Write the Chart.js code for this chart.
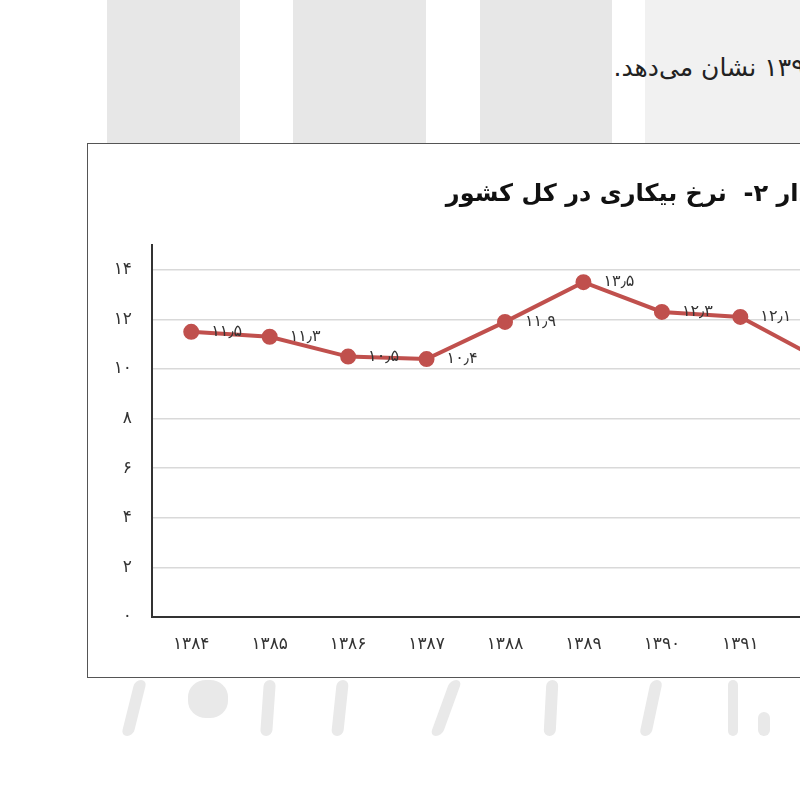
<!DOCTYPE html>
<html>
<head>
<meta charset="utf-8">
<script src="https://cdn.jsdelivr.net/npm/chart.js@4.4.1/dist/chart.umd.min.js"></script>
<style>
  html, body { margin: 0; padding: 0; background: #fff; overflow: hidden; width: 800px; height: 800px; }
  .wm { position: absolute; top: 0; height: 144px; background: #e7e7e7; }
  .stroke { position: absolute; background: #e9e9e9; border-radius: 6px; }
  .para { position: absolute; top: 53px; right: -18px; font: 25px "DejaVu Sans", sans-serif; direction: rtl; color: #222; white-space: nowrap; }
  .frame { position: absolute; left: 87px; top: 143px; width: 800px; height: 533px; border: 1.5px solid #555; background: #fff; }
  canvas { position: absolute; left: 0; top: 0; }
</style>
</head>
<body>
<div class="wm" style="left:107px;width:133px"></div>
<div class="wm" style="left:293px;width:133px"></div>
<div class="wm" style="left:480px;width:132px"></div>
<div class="wm" style="left:645px;width:155px;background:#f1f1f1"></div>
<div class="para">۱۳۹۲ نشان می‌دهد.</div>

<div class="stroke" style="left:128px;top:680px;width:12px;height:56px;transform:skewX(-14deg)"></div>
<div class="stroke" style="left:188px;top:680px;width:40px;height:38px;border-radius:45%"></div>
<div class="stroke" style="left:262px;top:680px;width:12px;height:56px;transform:skewX(-4deg)"></div>
<div class="stroke" style="left:334px;top:680px;width:12px;height:56px;transform:skewX(-6deg)"></div>
<div class="stroke" style="left:440px;top:680px;width:12px;height:56px;transform:skewX(-20deg)"></div>
<div class="stroke" style="left:545px;top:680px;width:12px;height:56px;transform:skewX(-3deg)"></div>
<div class="stroke" style="left:645px;top:680px;width:12px;height:56px;transform:skewX(-12deg)"></div>
<div class="stroke" style="left:728px;top:680px;width:10px;height:56px"></div>
<div class="stroke" style="left:758px;top:712px;width:12px;height:24px"></div>

<div class="frame">
  <canvas id="chart" width="790" height="533"></canvas>
</div>

<script>
const years = [1384, 1385, 1386, 1387, 1388, 1389, 1390, 1391, 1392];
const unemployment = [11.5, 11.3, 10.5, 10.4, 11.9, 13.5, 12.3, 12.1, 10.4];
const yTicks = [0, 2, 4, 6, 8, 10, 12, 14];
const chartTitle = "نمودار ۲-  نرخ بیکاری در کل کشور";

const faFont = '"DejaVu Sans", sans-serif';

// persian digits
const fa = (n) =>
  String(n).replace(".", "٫").replace(/\d/g, (d) => "۰۱۲۳۴۵۶۷۸۹"[d]);

// value labels to the right of each point
const pointLabels = {
  id: "pointLabels",
  afterDatasetsDraw(chart) {
    const ctx = chart.ctx;
    const meta = chart.getDatasetMeta(0);
    ctx.save();
    ctx.font = "16px " + faFont;
    ctx.fillStyle = "#333";
    ctx.textAlign = "left";
    ctx.textBaseline = "middle";
    meta.data.forEach((pt, i) => {
      ctx.fillText(fa(unemployment[i]), pt.x + 20, pt.y);
    });
    ctx.restore();
  },
};

// title, right aligned near the plot's right edge
const rightTitle = {
  id: "rightTitle",
  afterDraw(chart) {
    const ctx = chart.ctx;
    ctx.save();
    ctx.font = "bold 24px " + faFont;
    ctx.fillStyle = "#111";
    ctx.textAlign = "right";
    ctx.textBaseline = "middle";
    ctx.fillText(chartTitle, chart.chartArea.right - 7, 51);
    ctx.restore();
  },
};

new Chart(document.getElementById("chart"), {
  type: "line",
  data: {
    labels: years.map(fa),
    datasets: [
      {
        data: unemployment,
        borderColor: "#c0504d",
        backgroundColor: "#c0504d",
        borderWidth: 4,
        pointRadius: 6,
        pointBackgroundColor: "#c0504d",
        pointBorderColor: "#c0504d",
        tension: 0,
      },
    ],
  },
  options: {
    responsive: false,
    animation: false,
    layout: { padding: { left: 0, right: 20, top: 101, bottom: 0 } },
    plugins: {
      legend: { display: false },
      tooltip: { enabled: false },
      title: { display: false },
    },
    scales: {
      x: {
        offset: true,
        grid: { display: false, drawTicks: false },
        border: { color: "#333", width: 2 },
        ticks: { color: "#333", padding: 17, font: { family: faFont, size: 17 } },
        afterFit: (s) => { s.height = 60; },
      },
      y: {
        min: 0,
        max: 15,
        afterBuildTicks: (s) => { s.ticks = yTicks.map((v) => ({ value: v })); },
        grid: { color: "#d9d9d9", lineWidth: 1.5, drawTicks: false },
        border: { color: "#333", width: 2 },
        ticks: {
          color: "#333",
          padding: 20,
          font: { family: faFont, size: 17 },
          callback: (v) => fa(v),
        },
        afterFit: (s) => { s.width = 64; },
      },
    },
  },
  plugins: [pointLabels, rightTitle],
});
</script>
</body>
</html>
